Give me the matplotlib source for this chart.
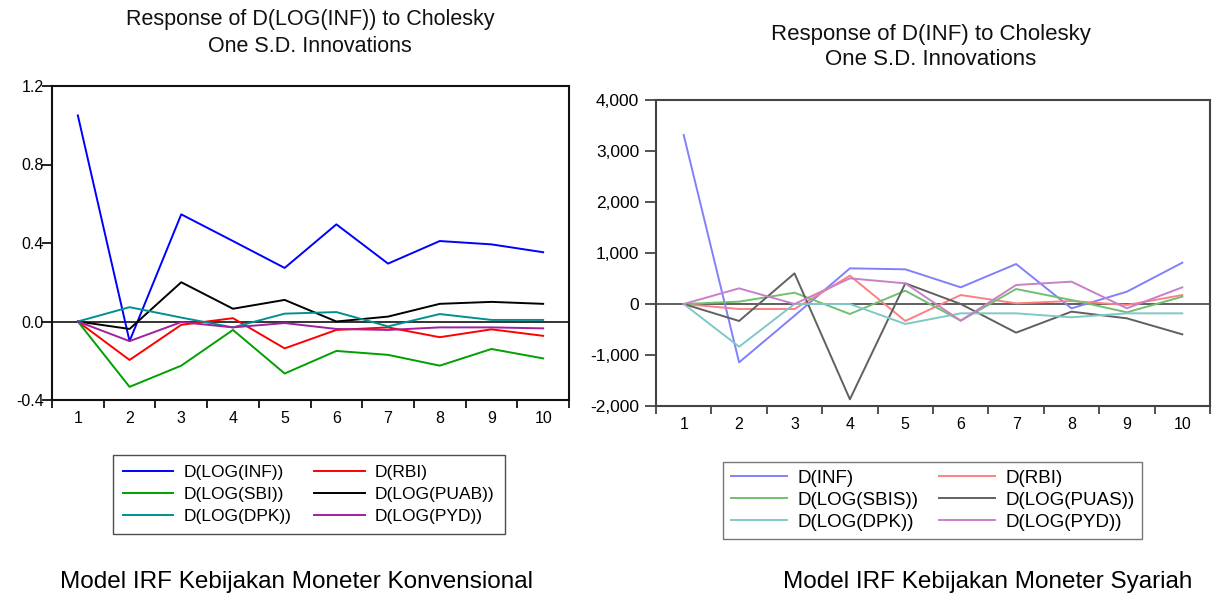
import numpy as np
import matplotlib
matplotlib.use('Agg')
import matplotlib.pyplot as plt
from matplotlib.ticker import FuncFormatter, FixedLocator

plt.rcParams['font.family'] = ['Liberation Sans', 'DejaVu Sans']
plt.rcParams['axes.unicode_minus'] = False

periods = np.arange(1, 11)

# Konvensional: response of D(LOG(INF))
k_inf = [1.05, -0.10, 0.546, 0.41, 0.273, 0.495, 0.295, 0.41, 0.393, 0.353]
k_rbi = [0.0, -0.196, -0.017, 0.017, -0.137, -0.043, -0.03, -0.08, -0.04, -0.073]
k_sbi = [0.0, -0.333, -0.225, -0.043, -0.265, -0.15, -0.17, -0.225, -0.14, -0.188]
k_puab = [0.0, -0.038, 0.20, 0.065, 0.11, 0.0, 0.025, 0.09, 0.10, 0.09]
k_dpk = [0.0, 0.073, 0.02, -0.03, 0.04, 0.048, -0.025, 0.038, 0.008, 0.008]
k_pyd = [0.0, -0.10, -0.003, -0.03, -0.008, -0.038, -0.043, -0.03, -0.03, -0.035]
k_labels = ['D(LOG(INF))', 'D(RBI)', 'D(LOG(SBI))', 'D(LOG(PUAB))',
            'D(LOG(DPK))', 'D(LOG(PYD))']

# Syariah: response of D(INF)
s_inf = [3314, -1144, -230, 699, 680, 327, 784, -85, 242, 810]
s_rbi = [0, -98, -98, 555, -333, 176, 13, 59, -20, 176]
s_sbis = [0, 46, 222, -196, 261, -327, 294, 78, -163, 144]
s_puas = [0, -333, 601, -1869, 405, 0, -562, -150, -281, -595]
s_dpk = [0, -837, 0, 0, -392, -183, -183, -261, -183, -183]
s_pyd = [0, 307, 0, 503, 405, -327, 373, 438, -85, 327]
s_labels = ['D(INF)', 'D(RBI)', 'D(LOG(SBIS))', 'D(LOG(PUAS))',
            'D(LOG(DPK))', 'D(LOG(PYD))']

k_colors = ['#0000ff', '#ff0000', '#00a000', '#000000', '#009090', '#a020a0']
s_colors = ['#8080ff', '#ff8080', '#70c070', '#606060', '#80c8c8', '#c880c8']

fig = plt.figure(figsize=(12.17, 5.97), dpi=100)
W, H = 1217, 597
row_order = [0, 2, 4, 1, 3, 5]  # legend filled row by row


def make_ax(x0, x1, ytop, ybot):
    return fig.add_axes([x0 / W, 1 - ybot / H, (x1 - x0) / W, (ybot - ytop) / H])


def style_ax(ax, spine_color, ylen, ypad, ysize):
    ax.set_xlim(0.5, 10.5)
    ax.xaxis.set_major_locator(FixedLocator(periods))
    ax.xaxis.set_minor_locator(FixedLocator(np.arange(0.5, 11, 1.0)))
    ax.tick_params(axis='x', which='major', length=0, pad=8, labelsize=11.5)
    ax.tick_params(axis='x', which='minor', length=6, width=1.3, color=spine_color)
    ax.tick_params(axis='y', length=ylen, width=1.3, color=spine_color,
                   labelsize=ysize, pad=ypad)
    for s in ax.spines.values():
        s.set_color(spine_color)
        s.set_linewidth(1.5)
    ax.axhline(0, color=spine_color, lw=1.2, zorder=1)


# left chart
ax1 = make_ax(52, 569, 86, 400)
lines1 = []
for vals, c, lab in zip([k_inf, k_rbi, k_sbi, k_puab, k_dpk, k_pyd], k_colors, k_labels):
    lines1 += ax1.plot(periods, vals, color=c, lw=1.4, label=lab)
style_ax(ax1, '#111111', 7, -1, 11.5)
ax1.set_ylim(-0.4, 1.2)
ax1.set_yticks([-0.4, 0.0, 0.4, 0.8, 1.2])
ax1.yaxis.set_major_formatter(FuncFormatter(lambda v, p: '%.1f' % v))
fig.text(310 / W, 1 - 33 / H, 'Response of D(LOG(INF)) to Cholesky\nOne S.D. Innovations',
         ha='center', va='center', fontsize=15.5, linespacing=1.35, color='#111111')
ax1.legend([lines1[i] for i in row_order], [k_labels[i] for i in row_order],
           loc='upper left', bbox_to_anchor=(113 / W, 1 - 455 / H),
           bbox_transform=fig.transFigure, borderaxespad=0, ncol=2, fontsize=12.5,
           frameon=True, fancybox=False, edgecolor='#222222', handlelength=2.9,
           handletextpad=0.6, columnspacing=1.3, labelspacing=0.38, borderpad=0.58)

# right chart
ax2 = make_ax(656, 1210, 100, 406)
lines2 = []
for vals, c, lab in zip([s_inf, s_rbi, s_sbis, s_puas, s_dpk, s_pyd], s_colors, s_labels):
    lines2 += ax2.plot(periods, vals, color=c, lw=1.4, label=lab)
style_ax(ax2, '#444444', 8, 4, 12.5)
ax2.set_ylim(-2000, 4000)
ax2.set_yticks(np.arange(-2000, 4001, 1000))
ax2.yaxis.set_major_formatter(FuncFormatter(lambda v, p: '{:,.0f}'.format(v)))
fig.text(931 / W, 1 - 47 / H, 'Response of D(INF) to Cholesky\nOne S.D. Innovations',
         ha='center', va='center', fontsize=16, linespacing=1.2, color='#111111')
ax2.legend([lines2[i] for i in row_order], [s_labels[i] for i in row_order],
           loc='upper left', bbox_to_anchor=(723 / W, 1 - 462 / H),
           bbox_transform=fig.transFigure, borderaxespad=0, ncol=2, fontsize=13.5,
           frameon=True, fancybox=False, edgecolor='#555555', handlelength=3.0,
           handletextpad=0.55, columnspacing=1.1, labelspacing=0.27, borderpad=0.4)

fig.text(296 / W, 1 - 582 / H, 'Model IRF Kebijakan Moneter Konvensional',
         ha='center', va='center', fontsize=17.5)
fig.text(988 / W, 1 - 582 / H, 'Model IRF Kebijakan Moneter Syariah',
         ha='center', va='center', fontsize=17.5)

fig.savefig('out.png', dpi=100)
